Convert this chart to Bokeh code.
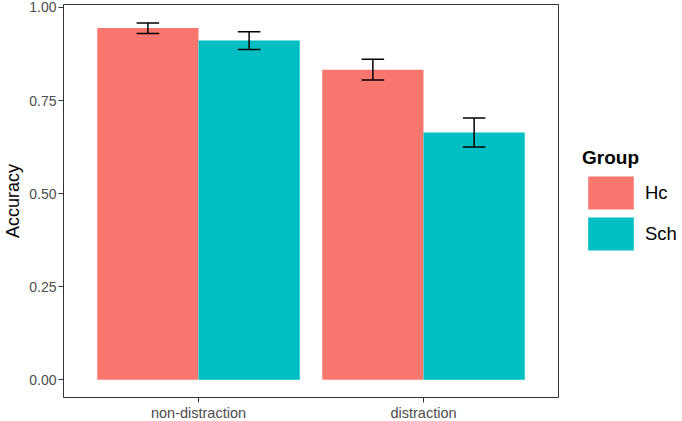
from bokeh.plotting import figure
from bokeh.models import Range1d, FixedTicker, NumeralTickFormatter, Legend, LegendItem
from bokeh.embed import file_html
from bokeh.resources import INLINE

conditions = ["non-distraction", "distraction"]
groups = ["Hc", "Sch"]
hc_mean = [0.945, 0.833]
hc_lo = [0.930, 0.805]
hc_hi = [0.958, 0.861]
sch_mean = [0.911, 0.664]
sch_lo = [0.887, 0.625]
sch_hi = [0.935, 0.703]
y_ticks = [0.0, 0.25, 0.5, 0.75, 1.0]
colors = ["#F8766D", "#00BFC4"]

FONT = "Liberation Sans"

p = figure(frame_width=495, frame_height=393, output_backend="svg", toolbar_location=None,
           x_range=Range1d(0.4, 2.6), y_range=Range1d(-0.048, 1.008),
           min_border_left=60, min_border_top=4, min_border_bottom=22, min_border_right=120)

idx = [i + 1 for i in range(len(conditions))]
bw = 0.45
renderers = []
for means, lo, hi, col, off in [(hc_mean, hc_lo, hc_hi, colors[0], -0.225),
                                (sch_mean, sch_lo, sch_hi, colors[1], 0.225)]:
    xs = [i + off for i in idx]
    r = p.vbar(x=xs, top=means, bottom=0, width=bw, fill_color=col, line_color=None)
    renderers.append(r)
    p.segment(x0=xs, x1=xs, y0=lo, y1=hi, line_color="black", line_width=1.5)
    p.segment(x0=[x - 0.05 for x in xs], x1=[x + 0.05 for x in xs], y0=lo, y1=lo,
              line_color="black", line_width=1.5)
    p.segment(x0=[x - 0.05 for x in xs], x1=[x + 0.05 for x in xs], y0=hi, y1=hi,
              line_color="black", line_width=1.5)

p.xgrid.visible = False
p.ygrid.visible = False
p.outline_line_color = "#333333"
p.outline_line_width = 1

p.xaxis.ticker = FixedTicker(ticks=idx)
p.xaxis.major_label_overrides = {i: c for i, c in zip(idx, conditions)}
p.yaxis.ticker = FixedTicker(ticks=y_ticks)
p.yaxis.formatter = NumeralTickFormatter(format="0.00")
p.yaxis.axis_label = "Accuracy"
for ax in (p.xaxis, p.yaxis):
    ax.axis_line_color = None
    ax.minor_tick_line_color = None
    ax.major_tick_line_color = "#333333"
    ax.major_tick_out = 5
    ax.major_tick_in = 0
    ax.major_label_text_font = FONT
    ax.major_label_text_font_size = "14.5px"
    ax.major_label_text_color = "#4d4d4d"
    ax.major_label_standoff = 2
p.yaxis.major_label_text_font_size = "14px"
p.yaxis.axis_label_text_font = FONT
p.yaxis.axis_label_text_font_size = "18px"
p.yaxis.axis_label_text_font_style = "normal"
p.yaxis.axis_label_text_color = "black"
p.yaxis.axis_label_standoff = 3

legend = Legend(items=[LegendItem(label=g, renderers=[r]) for g, r in zip(groups, renderers)],
                title="Group", location=(24, 143))
legend.title_text_font = FONT
legend.title_text_font_size = "19px"
legend.title_text_font_style = "bold"
legend.title_text_color = "black"
legend.title_standoff = 3
legend.label_text_font = FONT
legend.label_text_font_size = "18.5px"
legend.label_text_color = "black"
legend.glyph_width = 57
legend.glyph_height = 41
legend.label_height = 41
legend.spacing = -7
legend.label_standoff = 6
legend.border_line_color = None
legend.background_fill_alpha = 0
legend.padding = 0
legend.margin = 0
p.add_layout(legend, "right")

open("out.html", "w").write(file_html(p, INLINE))
